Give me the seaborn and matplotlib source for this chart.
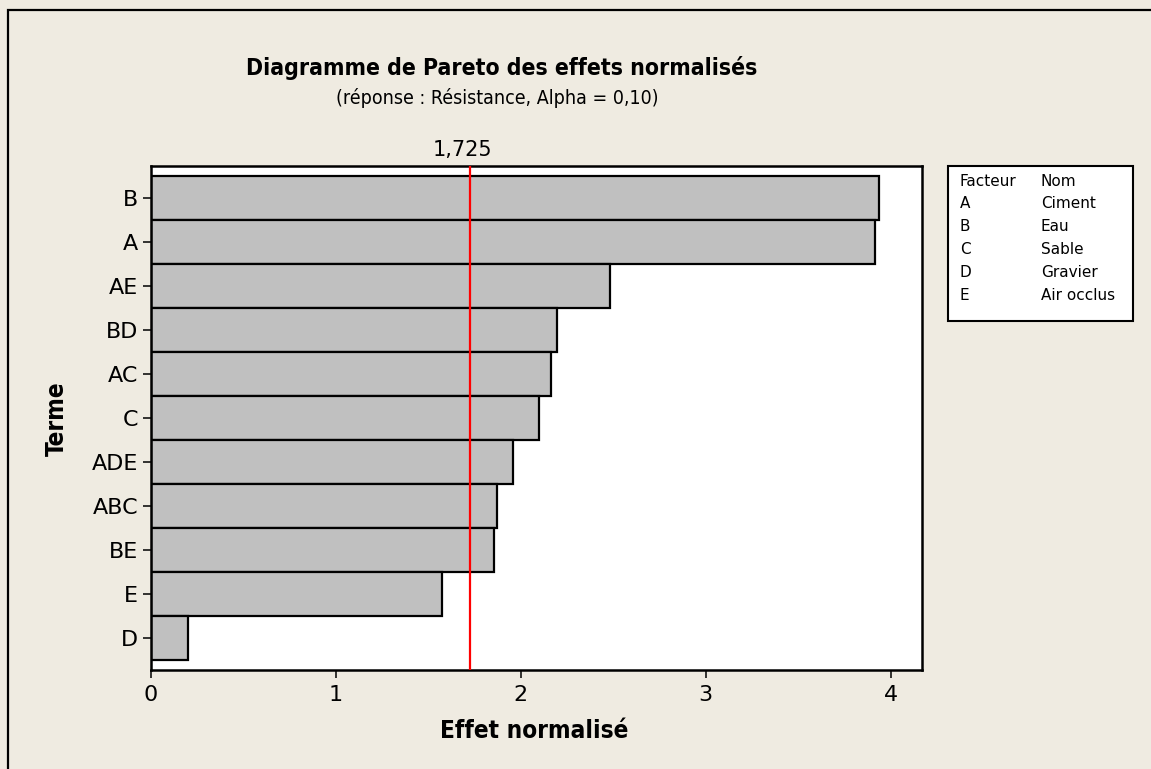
import matplotlib
matplotlib.use("Agg")
import matplotlib.pyplot as plt
from matplotlib.patches import Rectangle
import seaborn as sns
import pandas as pd

# Standardized effects, sorted from largest to smallest
terms = ["B", "A", "AE", "BD", "AC", "C", "ADE", "ABC", "BE", "E", "D"]
effects = [3.937, 3.915, 2.485, 2.195, 2.163, 2.098, 1.957, 1.871, 1.858, 1.578, 0.205]
critical_value = 1.725
critical_label = "1,725"

factor_codes = ["A", "B", "C", "D", "E"]
factor_names = ["Ciment", "Eau", "Sable", "Gravier", "Air occlus"]

title = "Diagramme de Pareto des effets normalisés"
subtitle = "(réponse : Résistance, Alpha = 0,10)"
x_label = "Effet normalisé"
y_label = "Terme"
x_ticks = [0, 1, 2, 3, 4]

BG = "#EFEBE1"
BAR = "#C0C0C0"

sns.set_theme(style="white")
plt.rcParams["font.family"] = ["DejaVu Sans"]
plt.rcParams["text.color"] = "black"
plt.rcParams["axes.labelcolor"] = "black"

W, H = 1151, 769
fig = plt.figure(figsize=(W / 100, H / 100), dpi=100)
fig.patch.set_facecolor(BG)

def fx(px):
    return px / W

def fy(py):
    return 1 - py / H

left, right, top, bottom = 150.5, 922, 166, 670
ax = fig.add_axes([fx(left), fy(bottom), fx(right - left), (bottom - top) / H])
ax.set_facecolor("white")

df = pd.DataFrame({"Terme": terms, "Effet": effects})
sns.barplot(data=df, x="Effet", y="Terme", order=terms, orient="h",
            color=BAR, saturation=1, width=1.0, edgecolor="black",
            linewidth=1.6, ax=ax)

pad = 10 / 44
ax.set_ylim(len(terms) - 0.5 + pad, -0.5 - pad)
ax.set_xlim(0, 4.17)
ax.set_xticks(x_ticks)
ax.set_xticklabels([str(t) for t in x_ticks])

# Critical value reference line
ax.axvline(critical_value, color="#FF0000", lw=1.6, zorder=5)
ax.annotate(critical_label, xy=(critical_value, 1.0),
            xycoords=("data", "axes fraction"), xytext=(-5, 4),
            textcoords="offset points", ha="center", va="bottom",
            fontsize=15, color="black")

for s in ax.spines.values():
    s.set_visible(True)
    s.set_color("black")
    s.set_linewidth(1.8)

ax.tick_params(axis="both", which="major", direction="out", length=6,
               width=1.1, color="black", labelsize=16, labelcolor="black",
               bottom=True, left=True)
ax.tick_params(axis="x", pad=5)
ax.tick_params(axis="y", pad=3)
ax.set_xlabel("")
ax.set_ylabel("")

# Axis titles
fig.text(fx(534), fy(738), x_label, ha="center", va="baseline",
         fontsize=17.5, fontweight="bold", fontstretch="condensed")
fig.text(fx(57), fy(419), y_label, ha="center", va="center", rotation=90,
         fontsize=17.5, fontweight="bold", fontstretch="condensed")

# Title block
fig.text(fx(502), fy(75), title, ha="center", va="baseline",
         fontsize=16.5, fontweight="bold", fontstretch="condensed")
fig.text(fx(497), fy(104), subtitle, ha="center", va="baseline",
         fontsize=14, fontstretch="condensed")

# Factor legend box
fig.patches.append(Rectangle((fx(948), fy(321)), fx(1133 - 948), (321 - 166) / H,
                             transform=fig.transFigure, facecolor="white",
                             edgecolor="black", lw=1.5))
rows = [("Facteur", "Nom")] + list(zip(factor_codes, factor_names))
for i, (code, name) in enumerate(rows):
    y = fy(181 + i * 22.8)
    fig.text(fx(960), y, code, ha="left", va="center", fontsize=11)
    fig.text(fx(1041), y, name, ha="left", va="center", fontsize=11)

# Outer frame
fig.patches.append(Rectangle((fx(8), fy(H + 20)), fx(W + 20), (H + 20 - 10) / H,
                             transform=fig.transFigure, facecolor="none",
                             edgecolor="black", lw=1.6))

fig.savefig("out.png", dpi=100, facecolor=BG)
